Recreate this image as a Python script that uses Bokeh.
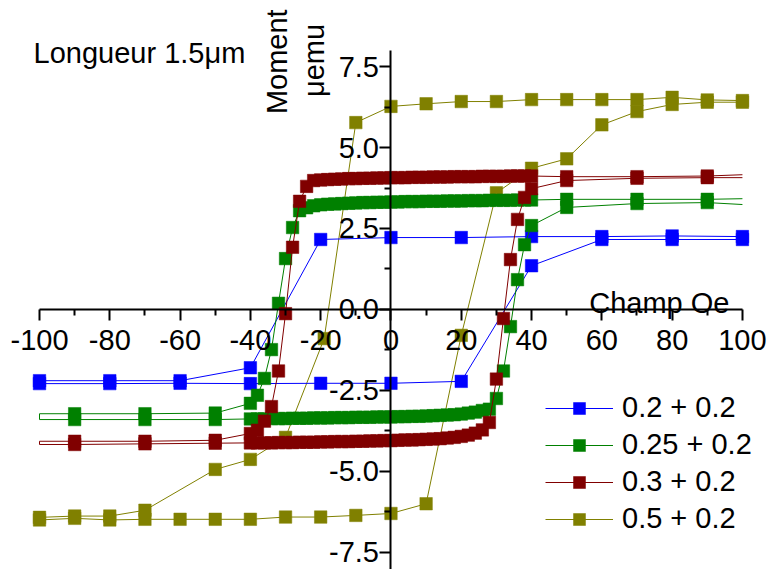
from bokeh.plotting import figure
from bokeh.models import (Range1d, FixedTicker, NumeralTickFormatter, Label,
                          Legend, LegendItem, ColumnDataSource, CDSView, BooleanFilter)
from bokeh.embed import file_html
from bokeh.resources import INLINE

FONT = "Liberation Sans"

# ---------------- data (field in Oe, moment in µemu) ----------------
# dense sweep grids used by the 0.25+0.2 and 0.3+0.2 loops
dense_down_field = [40, 38, 36, 34, 32, 30, 28, 26, 24, 22, 20, 18, 16, 14, 12, 10, 8, 6, 4, 2, 0,
                    -2, -4, -6, -8, -10, -12, -14, -16, -18, -20, -22, -24, -26]
dense_up_field = [-40, -38, -36, -34, -32, -30, -28, -26, -24, -22, -20, -18, -16, -14, -12, -10, -8,
                  -6, -4, -2, 0, 2, 4, 6, 8, 10, 12, 14, 16, 18, 20, 22, 24, 26]

# 0.2 + 0.2
blue_down_field = [100, 80, 60, 40, 20, 0, -20, -40, -60, -80, -100]
blue_down_moment = [2.25, 2.27, 2.25, 2.25, 2.22, 2.22, 2.16, -1.80, -2.20, -2.20, -2.20]
blue_up_field = [-100, -80, -60, -40, -20, 0, 20, 40, 60, 80, 100]
blue_up_moment = [-2.29, -2.29, -2.28, -2.29, -2.28, -2.28, -2.22, 1.35, 2.16, 2.16, 2.16]

# 0.25 + 0.2  (the +-100 entries are where the trace meets the axis ends: no marker there)
green_down_head_field = [100, 90, 70, 50]
green_down_head_moment = [3.42, 3.40, 3.40, 3.40]
green_down_dense_moment = [3.38, 3.38, 3.38, 3.37, 3.37, 3.37, 3.37, 3.36, 3.36, 3.36, 3.35, 3.35,
                           3.35, 3.34, 3.34, 3.34, 3.33, 3.33, 3.33, 3.32, 3.32, 3.31, 3.31, 3.30,
                           3.30, 3.29, 3.28, 3.27, 3.26, 3.25, 3.23, 3.20, 3.14, 3.05]
green_down_tail_field = [-28, -30, -32, -34, -36, -38, -40, -50, -70, -90, -100]
green_down_tail_moment = [2.53, 1.57, 0.19, -1.24, -2.13, -2.65, -2.90, -3.20, -3.22, -3.22, -3.22]
green_up_head_field = [-100, -90, -70, -50]
green_up_head_moment = [-3.40, -3.40, -3.40, -3.40]
green_up_dense_moment = [-3.38, -3.38, -3.38, -3.37, -3.37, -3.37, -3.36, -3.36, -3.36, -3.35, -3.35,
                         -3.35, -3.34, -3.34, -3.34, -3.33, -3.33, -3.33, -3.32, -3.32, -3.32, -3.31,
                         -3.31, -3.30, -3.30, -3.29, -3.28, -3.27, -3.26, -3.25, -3.23, -3.20, -3.17,
                         -3.12]
green_up_tail_field = [28, 30, 32, 34, 36, 38, 40, 50, 70, 90, 100]
green_up_tail_moment = [-3.08, -2.75, -1.90, -0.53, 0.92, 2.00, 2.59, 3.15, 3.27, 3.30, 3.24]

# 0.3 + 0.2  (the +-100 entries are where the trace meets the axis ends: no marker there)
red_down_head_field = [100, 90, 70, 50]
red_down_head_moment = [4.16, 4.12, 4.10, 4.10]
red_down_dense_moment = [4.12, 4.12, 4.12, 4.12, 4.11, 4.11, 4.11, 4.11, 4.10, 4.10, 4.10, 4.10,
                         4.09, 4.09, 4.09, 4.08, 4.08, 4.08, 4.07, 4.07, 4.07, 4.06, 4.06, 4.05,
                         4.05, 4.04, 4.04, 4.03, 4.02, 4.01, 4.00, 3.98, 3.80, 3.34]
red_down_tail_field = [-28, -30, -32, -34, -36, -38, -40, -50, -70, -90, -100]
red_down_tail_moment = [1.92, -0.13, -1.90, -3.00, -3.45, -3.73, -3.83, -4.04, -4.07, -4.07, -4.07]
red_up_head_field = [-100, -90, -70, -50]
red_up_head_moment = [-4.17, -4.17, -4.15, -4.13]
red_up_dense_moment = [-4.12, -4.12, -4.12, -4.12, -4.11, -4.11, -4.11, -4.10, -4.10, -4.10, -4.09,
                       -4.09, -4.08, -4.08, -4.08, -4.07, -4.07, -4.06, -4.06, -4.05, -4.05, -4.04,
                       -4.03, -4.03, -4.02, -4.01, -4.00, -3.99, -3.97, -3.95, -3.92, -3.88, -3.82,
                       -3.72]
red_up_tail_field = [28, 30, 32, 34, 36, 38, 40, 50, 70, 90, 100]
red_up_tail_moment = [-3.49, -2.15, -0.28, 1.54, 2.78, 3.46, 3.73, 3.98, 4.05, 4.07, 4.07]

# 0.5 + 0.2
olive_down_field = [100, 90, 80, 70, 60, 50, 40, 30, 20, 10, 0, -10, -19, -30, -40, -50, -70, -80,
                    -90, -100]
olive_down_moment = [6.45, 6.47, 6.55, 6.48, 6.48, 6.48, 6.48, 6.42, 6.42, 6.35, 6.27, 5.77, -0.90,
                     -3.95, -4.63, -4.94, -6.20, -6.38, -6.38, -6.42]
olive_up_field = [-100, -90, -80, -70, -60, -50, -40, -30, -20, -10, 0, 10, 20, 30, 40, 50, 60, 70,
                  80, 90, 100]
olive_up_moment = [-6.50, -6.45, -6.50, -6.48, -6.48, -6.48, -6.48, -6.41, -6.41, -6.36, -6.30, -6.00,
                   -0.80, 3.60, 4.36, 4.65, 5.70, 6.11, 6.33, 6.40, 6.40]

series_labels = ["0.2 + 0.2", "0.25 + 0.2", "0.3 + 0.2", "0.5 + 0.2"]
series_colors = ["#0000FF", "#008000", "#800000", "#808000"]
markers_at_axis_ends = {"0.2 + 0.2": True, "0.25 + 0.2": False, "0.3 + 0.2": False, "0.5 + 0.2": True}

x_ticks = [-100, -80, -60, -40, -20, 0, 20, 40, 60, 80, 100]
y_ticks = [-7.5, -5.0, -2.5, 0.0, 2.5, 5.0, 7.5]
x_axis_span = (-100, 100)
y_axis_span = (-8.03, 8.0)

# ---------------- assemble loops ----------------
loops = {
    "0.2 + 0.2": (blue_down_field + blue_up_field, blue_down_moment + blue_up_moment),
    "0.25 + 0.2": (green_down_head_field + dense_down_field + green_down_tail_field
                   + green_up_head_field + dense_up_field + green_up_tail_field,
                   green_down_head_moment + green_down_dense_moment + green_down_tail_moment
                   + green_up_head_moment + green_up_dense_moment + green_up_tail_moment),
    "0.3 + 0.2": (red_down_head_field + dense_down_field + red_down_tail_field
                  + red_up_head_field + dense_up_field + red_up_tail_field,
                  red_down_head_moment + red_down_dense_moment + red_down_tail_moment
                  + red_up_head_moment + red_up_dense_moment + red_up_tail_moment),
    "0.5 + 0.2": (olive_down_field + olive_up_field, olive_down_moment + olive_up_moment),
}

# the plot frame covers the whole canvas; the axes are limited with bounds
p = figure(width=769, height=569, output_backend="svg", toolbar_location=None,
           x_range=Range1d(-111.1, 107.7), y_range=Range1d(-8.03, 9.54),
           min_border=0)
p.outline_line_color = None
p.grid.visible = False
p.background_fill_color = "white"
p.border_fill_color = "white"

items = {}
draw_order = ["0.5 + 0.2", "0.2 + 0.2", "0.25 + 0.2", "0.3 + 0.2"]
for name in draw_order:
    col = series_colors[series_labels.index(name)]
    fx, my = loops[name]
    src = ColumnDataSource(dict(x=fx, y=my))
    ln = p.line("x", "y", source=src, line_color=col, line_width=1)
    if markers_at_axis_ends[name]:
        view = CDSView()
    else:
        view = CDSView(filter=BooleanFilter([abs(v) < 100 for v in fx]))
    sc = p.scatter("x", "y", source=src, view=view, marker="square", size=12.5,
                   fill_color=col, line_color=col, line_width=0.5)
    items[name] = [ln, sc]

legend = Legend(items=[LegendItem(label=n, renderers=items[n]) for n in series_labels],
                location=(545, 34), orientation="vertical",
                glyph_width=68, glyph_height=30, label_height=30, label_standoff=9,
                spacing=4, padding=0, margin=0,
                label_text_font=FONT, label_text_font_size="29px", label_text_color="black",
                background_fill_alpha=0, border_line_alpha=0)
p.add_layout(legend)

for ax in (p.xaxis[0], p.yaxis[0]):
    ax.fixed_location = 0
    ax.axis_line_width = 2
    ax.axis_line_color = "black"
    ax.major_tick_line_width = 2
    ax.minor_tick_line_width = 2
    ax.major_tick_in = 0
    ax.major_tick_out = 11
    ax.minor_tick_in = 0
    ax.minor_tick_out = 6
    ax.major_label_text_font = FONT
    ax.major_label_text_font_size = "29px"
    ax.major_label_text_color = "black"

p.xaxis.bounds = x_axis_span
p.yaxis.bounds = y_axis_span
p.xaxis.ticker = FixedTicker(ticks=x_ticks, minor_ticks=[v + 10 for v in x_ticks[:-1]])
p.yaxis.ticker = FixedTicker(ticks=y_ticks, minor_ticks=[v + 1.25 for v in y_ticks[:-1]])
p.xaxis.formatter = NumeralTickFormatter(format="0")
p.yaxis.formatter = NumeralTickFormatter(format="0.0")
p.xaxis.major_label_standoff = 10
p.yaxis.major_label_standoff = 1

def add_label(x, y, text, size="29px", align="left", baseline="alphabetic", angle=0):
    p.add_layout(Label(x=x, y=y, text=text, text_font=FONT, text_font_size=size,
                       text_align=align, text_baseline=baseline, angle=angle,
                       text_color="black"))

add_label(-101.7, 7.93, "Longueur 1.5μm")
add_label(96.3, 0.19, "Champ Oe", align="right")
add_label(-32.4, 7.65, "Moment", size="29px", align="center", baseline="middle", angle=1.5708)
add_label(-22.0, 7.69, "μemu", size="29px", align="center", baseline="middle", angle=1.5708)

open("out.html", "w").write(file_html(p, INLINE))
